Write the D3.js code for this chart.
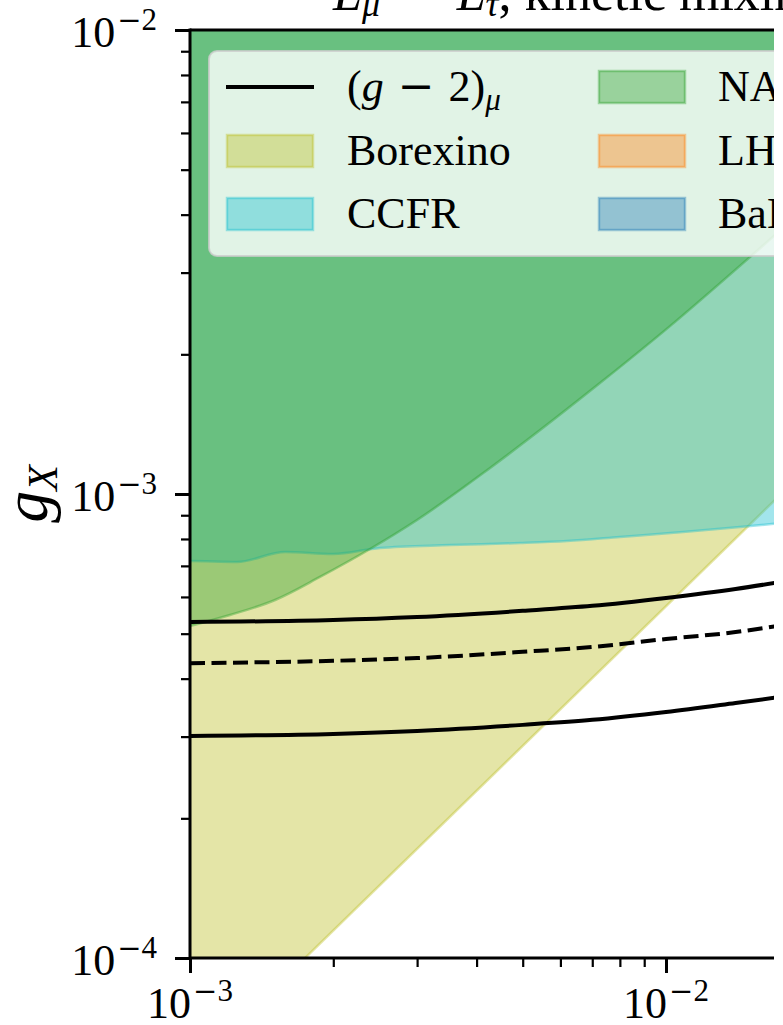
<!DOCTYPE html>
<html>
<head>
<meta charset="utf-8">
<script src="https://cdn.jsdelivr.net/npm/d3@7"></script>
<style>
  body { margin: 0; background: #fff; }
  svg { display: block; }
  text { font-family: "Liberation Serif", "DejaVu Serif", serif; fill: #000; }
  .minus { font-family: "DejaVu Serif", serif; }
</style>
</head>
<body>
<svg id="chart" width="783" height="1025"></svg>
<script>
// ---- data (mass m_X in GeV, coupling g_X) ----
const xMajorTicks = [1e-3, 1e-2];
const yMajorTicks = [1e-4, 1e-3, 1e-2];
const xTickExponents = ["3", "2"];
const yTickExponents = ["4", "3", "2"];

// (g-2)_mu preferred band: upper edge, central value, lower edge
const g2Mass    = [1e-3, 2e-3, 3e-3, 5e-3, 7e-3, 1e-2, 1.4e-2, 1.8e-2];
const g2Upper   = [5.30e-4, 5.35e-4, 5.43e-4, 5.60e-4, 5.74e-4, 5.97e-4, 6.24e-4, 6.50e-4];
const g2Central = [4.32e-4, 4.37e-4, 4.43e-4, 4.57e-4, 4.68e-4, 4.87e-4, 5.04e-4, 5.24e-4];
const g2Lower   = [3.01e-4, 3.04e-4, 3.085e-4, 3.18e-4, 3.26e-4, 3.39e-4, 3.545e-4, 3.67e-4];

// Borexino: excluded above a straight line g = c * m
const borexinoMass = [1e-4, 1e-1];
const borexinoG    = [5.73e-6, 5.73e-3];

// CCFR neutrino trident bound
const ccfrMass = [8e-4, 1e-3, 1.255e-3, 1.584e-3, 1.997e-3, 2.507e-3, 3.518e-3, 4.935e-3, 6.194e-3, 8.004e-3, 1.0856e-2, 1.4307e-2, 1.8e-2];
const ccfrG    = [7.17e-4, 7.17e-4, 7.135e-4, 7.50e-4, 7.425e-4, 7.65e-4, 7.76e-4, 7.84e-4, 7.92e-4, 8.08e-4, 8.28e-4, 8.49e-4, 8.68e-4];

// NA64 bound
const na64Mass = [8e-4, 1e-3, 1.213e-3, 1.509e-3, 1.875e-3, 2.389e-3, 2.999e-3, 4.27e-3, 7.265e-3, 1.0195e-2, 1.501e-2, 1.82e-2];
const na64G    = [4.94e-4, 5.195e-4, 5.485e-4, 5.91e-4, 6.625e-4, 7.61e-4, 8.79e-4, 1.138e-3, 1.734e-3, 2.30e-3, 3.24e-3, 3.857e-3];

const gCeiling = 1; // regions extend upward past the frame

const legendLabels = ["Borexino", "CCFR", "NA64", "LHCb", "BaBar"];
const legendColors = ["#bcbd22", "#17becf", "#2ca02c", "#ff7f0e", "#1f77b4"];

// ---- layout ----
const svg = d3.select("#chart");
const axLeft = 190, axTop = 30, axBottom = 958, visRight = 774;
const decadeX = 476;
const majorLen = 15, minorLen = 9, tickPad = 18;

const x = d3.scaleLog().domain([1e-3, 1e-1]).range([axLeft, axLeft + 2 * decadeX]);
const y = d3.scaleLog().domain([1e-4, 1e-2]).range([axBottom, axTop]);

const defs = svg.append("defs");
defs.append("clipPath").attr("id", "plotClip")
  .append("rect").attr("x", axLeft).attr("y", axTop).attr("width", visRight - axLeft).attr("height", axBottom - axTop);
defs.append("clipPath").attr("id", "frameClip")
  .append("rect").attr("x", 0).attr("y", 0).attr("width", visRight).attr("height", 1025);

const plotG = svg.append("g").attr("clip-path", "url(#plotClip)");

// filled exclusion regions: area between the bound and the ceiling, plus the bound's edge
function region(mass, g, color) {
  const ceil = y(gCeiling);
  const area = d3.area().curve(d3.curveMonotoneX)
    .x((d, i) => x(mass[i])).y0(ceil).y1((d, i) => y(g[i]));
  plotG.append("path").attr("d", area(mass))
    .attr("fill", color).attr("fill-opacity", 0.4).attr("stroke", "none");
  plotG.append("path")
    .attr("d", d3.line().curve(d3.curveMonotoneX).x((d, i) => x(mass[i])).y((d, i) => y(g[i]))(mass))
    .attr("fill", "none").attr("stroke", color).attr("stroke-opacity", 0.4).attr("stroke-width", 2.5);
}
region(borexinoMass, borexinoG, legendColors[0]);
region(ccfrMass, ccfrG, legendColors[1]);
region(na64Mass, na64G, legendColors[2]);

// (g-2)_mu lines
const g2Line = arr => d3.line().curve(d3.curveMonotoneX)
  .x((d, i) => x(g2Mass[i])).y((d, i) => y(arr[i]))(g2Mass);
plotG.append("path").attr("d", g2Line(g2Upper)).attr("fill", "none").attr("stroke", "#000").attr("stroke-width", 4);
plotG.append("path").attr("d", g2Line(g2Lower)).attr("fill", "none").attr("stroke", "#000").attr("stroke-width", 4);
plotG.append("path").attr("d", g2Line(g2Central)).attr("fill", "none").attr("stroke", "#000").attr("stroke-width", 4)
  .attr("stroke-dasharray", "15,6.5");

// ---- axes ----
const frameG = svg.append("g").attr("clip-path", "url(#frameClip)");

function minorTicks(domain) {
  const out = [];
  const lo = Math.round(Math.log10(domain[0])), hi = Math.round(Math.log10(domain[1]));
  for (let e = lo; e < hi; e++) for (let k = 2; k <= 9; k++) out.push(k * Math.pow(10, e));
  return out;
}

const yAxisMajor = d3.axisLeft(y).tickValues(yMajorTicks).tickSize(majorLen).tickFormat("");
const yAxisMinor = d3.axisLeft(y).tickValues(minorTicks(y.domain())).tickSize(minorLen).tickFormat("");
const xAxisMajor = d3.axisBottom(x).tickValues(xMajorTicks).tickSize(majorLen).tickFormat("");
const xAxisMinor = d3.axisBottom(x).tickValues(minorTicks(x.domain())).tickSize(minorLen).tickFormat("");

function styleAxis(g, w) {
  g.select(".domain").remove();
  g.selectAll(".tick line").attr("stroke", "#000").attr("stroke-width", w);
}
frameG.append("g").attr("transform", `translate(${axLeft},0)`).call(yAxisMinor).call(g => styleAxis(g, 2.2));
frameG.append("g").attr("transform", `translate(${axLeft},0)`).call(yAxisMajor).call(g => styleAxis(g, 3));
frameG.append("g").attr("transform", `translate(0,${axBottom})`).call(xAxisMinor).call(g => styleAxis(g, 2.2));
frameG.append("g").attr("transform", `translate(0,${axBottom})`).call(xAxisMajor).call(g => styleAxis(g, 3));

// spines
frameG.append("line").attr("x1", axLeft).attr("x2", axLeft).attr("y1", axTop - 1.5).attr("y2", axBottom + 1.5).attr("stroke", "#000").attr("stroke-width", 3);
frameG.append("line").attr("x1", axLeft).attr("x2", visRight + 10).attr("y1", axBottom).attr("y2", axBottom).attr("stroke", "#000").attr("stroke-width", 3);
frameG.append("line").attr("x1", axLeft).attr("x2", visRight + 10).attr("y1", axTop).attr("y2", axTop).attr("stroke", "#000").attr("stroke-width", 3);

// tick labels: 10 with a superscript negative exponent
function powerLabel(parent, px, py, anchor, exp) {
  const t = parent.append("text").attr("x", px).attr("y", py).attr("text-anchor", anchor)
    .style("font-size", "44px");
  t.append("tspan").text("10");
  t.append("tspan").attr("class", "minus").attr("dx", 2).attr("dy", -17).style("font-size", "29px").text("−");
  t.append("tspan").style("font-size", "31px").text(exp);
  return t;
}
yMajorTicks.forEach((v, i) => powerLabel(svg, axLeft - majorLen - tickPad, y(v) + 17, "end", yTickExponents[i]));
xMajorTicks.forEach((v, i) => powerLabel(svg, x(v), 1018, "middle", xTickExponents[i]));

// axis label g_X, centred on the axes height
const yl = svg.append("text")
  .attr("transform", `translate(47,${(axTop + axBottom) / 2}) rotate(-90)`).attr("text-anchor", "middle");
yl.append("tspan").style("font-style", "italic").style("font-size", "64px").text("g");
yl.append("tspan").style("font-style", "italic").style("font-size", "42px").attr("dy", 10).text("X");

// title (runs off the top edge)
const title = svg.append("text").attr("x", 333).attr("y", 10).style("font-size", "52px");
title.append("tspan").style("font-style", "italic").text("L");
title.append("tspan").style("font-style", "italic").style("font-size", "36px").attr("dy", 6).text("μ");
title.append("tspan").attr("class", "minus").attr("dy", -6).text(" − ");
title.append("tspan").style("font-style", "italic").text("L");
title.append("tspan").style("font-style", "italic").style("font-size", "36px").attr("dy", 6).text("τ");
title.append("tspan").attr("dy", -6).text(", kinetic mixing");

// ---- legend ----
const lg = frameG.append("g");
lg.append("rect").attr("x", 209).attr("y", 51).attr("width", 700).attr("height", 205).attr("rx", 8)
  .attr("fill", "#fff").attr("fill-opacity", 0.8).attr("stroke", "#ccc").attr("stroke-opacity", 0.8).attr("stroke-width", 2);
const rowY = [87, 151, 214];
const col = [{ h: 226, t: 347 }, { h: 598, t: 718 }];
// line entry
lg.append("line").attr("x1", col[0].h).attr("x2", col[0].h + 88).attr("y1", rowY[0]).attr("y2", rowY[0])
  .attr("stroke", "#000").attr("stroke-width", 4);
const g2t = lg.append("text").attr("x", col[0].t).attr("y", rowY[0] + 14).style("font-size", "44px");
g2t.append("tspan").text("(");
g2t.append("tspan").style("font-style", "italic").text("g");
g2t.append("tspan").attr("class", "minus").text(" − ");
g2t.append("tspan").text("2)");
g2t.append("tspan").style("font-style", "italic").style("font-size", "31px").attr("dy", 9).text("μ");
// patch entries
legendLabels.forEach((lab, i) => {
  const slot = i + 1;
  const c = col[Math.floor(slot / 3)], r = rowY[slot % 3];
  lg.append("rect").attr("x", c.h + 1).attr("y", r - 16).attr("width", 86).attr("height", 32)
    .attr("fill", legendColors[i]).attr("fill-opacity", 0.4)
    .attr("stroke", legendColors[i]).attr("stroke-opacity", 0.4).attr("stroke-width", 2.5);
  lg.append("text").attr("x", c.t).attr("y", r + 14).style("font-size", "44px").text(lab);
});
</script>
</body>
</html>
